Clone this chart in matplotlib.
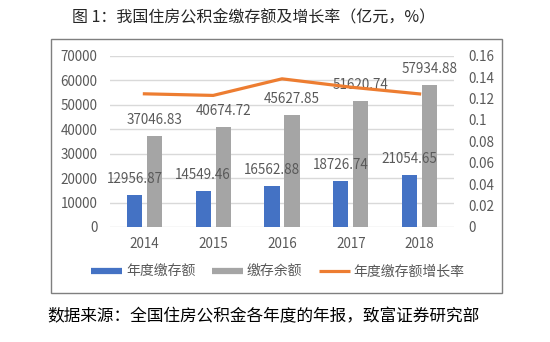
import matplotlib
matplotlib.use("Agg")
import matplotlib.pyplot as plt
from matplotlib.lines import Line2D
from matplotlib.patches import Rectangle
from matplotlib.ticker import FixedLocator, FuncFormatter
import numpy as np

plt.rcParams['font.family'] = ['Noto Sans CJK SC', 'DejaVu Sans']

years = ["2014", "2015", "2016", "2017", "2018"]
annual_deposit = [12956.87, 14549.46, 16562.88, 18726.74, 21054.65]
deposit_balance = [37046.83, 40674.72, 45627.85, 51620.74, 57934.88]
growth_rate = [0.1244, 0.1229, 0.1384, 0.1306, 0.1243]
left_ticks = [0, 10000, 20000, 30000, 40000, 50000, 60000, 70000]
right_ticks = [0, 0.02, 0.04, 0.06, 0.08, 0.1, 0.12, 0.14, 0.16]

BLUE = "#4472C4"
GRAY = "#A5A5A5"
ORANGE = "#ED7D31"
TEXT = "#595959"
GRID = "#D9D9D9"

fig = plt.figure(figsize=(5.5, 3.42), dpi=100)
fig.patch.set_facecolor("white")

# outer chart frame
frame = Rectangle((50.7 / 550, 1 - 292.7 / 342), (502 - 50.7) / 550, (292.7 - 39) / 342,
                  transform=fig.transFigure, fill=False, edgecolor="#7F7F7F", lw=1.0)
fig.add_artist(frame)

ax = fig.add_axes([110 / 550, 1 - 227 / 342, (454 - 110) / 550, (227 - 55.7) / 342])
ax2 = ax.twinx()

x = np.arange(len(years))
w = 0.22
off = 0.145
b1 = ax.bar(x - off, annual_deposit, w, color=BLUE, zorder=3)
b2 = ax.bar(x + off, deposit_balance, w, color=GRAY, zorder=3)

for bars, vals in ((b1, annual_deposit), (b2, deposit_balance)):
    for rect, v in zip(bars, vals):
        ax.annotate(f"{v:.2f}", (rect.get_x() + rect.get_width() / 2, v),
                    xytext=(0, 6.5), textcoords="offset points",
                    ha="center", va="bottom", fontsize=9.7, color=TEXT, zorder=5)

ax2.plot(x, growth_rate, color=ORANGE, lw=2.3, zorder=4)

ax.set_xlim(-0.5, 4.5)
ax.set_ylim(0, 70000)
ax2.set_ylim(0, 0.16)
ax.yaxis.set_major_locator(FixedLocator(left_ticks))
ax2.yaxis.set_major_locator(FixedLocator(right_ticks))
ax.yaxis.set_major_formatter(FuncFormatter(lambda v, p: f"{int(v)}"))
ax2.yaxis.set_major_formatter(FuncFormatter(lambda v, p: f"{v:g}"))
ax.set_xticks(x)
ax.set_xticklabels(years)

ax.grid(axis="y", color=GRID, lw=1.0, zorder=0)
ax.set_axisbelow(True)
for a in (ax, ax2):
    for s in a.spines.values():
        s.set_visible(False)
    a.tick_params(length=0, labelsize=9.7, labelcolor=TEXT)
ax.tick_params(axis="y", pad=9)
ax.tick_params(axis="x", pad=7)
ax2.tick_params(axis="y", pad=10)
ax.set_zorder(ax2.get_zorder() - 1)
ax.patch.set_visible(False)
ax2.patch.set_visible(False)

handles = [Line2D([], [], color=BLUE, lw=4.5, solid_capstyle="butt"),
           Line2D([], [], color=GRAY, lw=4.5, solid_capstyle="butt"),
           Line2D([], [], color=ORANGE, lw=2.3, solid_capstyle="butt")]
labels = ["年度缴存额", "缴存余额", "年度缴存额增长率"]
fig.legend(handles, labels, loc="center", bbox_to_anchor=(278 / 550, 1 - 272 / 342),
           ncol=3, frameon=False, fontsize=10, labelcolor=TEXT,
           handlelength=2.2, handletextpad=0.3, columnspacing=1.2)

fig.text(254 / 550, 1 - 18 / 342, "图 1：我国住房公积金缴存额及增长率（亿元，%）",
         ha="center", va="center", fontsize=11.5, color="#262626")
fig.text(263 / 550, 1 - 317 / 342, "数据来源：全国住房公积金各年度的年报，致富证券研究部",
         ha="center", va="center", fontsize=12, color="black")

fig.savefig("out.png", dpi=100, facecolor="white")
